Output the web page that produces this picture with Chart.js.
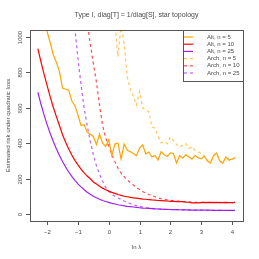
<!DOCTYPE html>
<html>
<head>
<meta charset="utf-8">
<script src="https://cdn.jsdelivr.net/npm/chart.js@4/dist/chart.umd.min.js"></script>
<style>
	html, body { margin: 0; padding: 0; background: #fff; }
	canvas { display: block; }
</style>
</head>
<body>
<canvas id="risk-chart" width="259" height="259"></canvas>
<script>
//ln lambda grid
var lnLambda = [-2.3, -2.2, -2.1, -2.0, -1.9, -1.8, -1.7, -1.6, -1.5, -1.4, -1.3, -1.2, -1.1, -1.0, -0.9, -0.8, -0.7, -0.6, -0.5, -0.4, -0.3, -0.2, -0.1,
	0.0, 0.1, 0.2, 0.3, 0.4, 0.5, 0.6, 0.7, 0.8, 0.9,
	1.0, 1.1, 1.2, 1.3, 1.4, 1.5, 1.6, 1.7, 1.8, 1.9,
	2.0, 2.1, 2.2, 2.3, 2.4, 2.5, 2.6, 2.7, 2.8, 2.9,
	3.0, 3.1, 3.2, 3.3, 3.4, 3.5, 3.6, 3.7, 3.8, 3.9,
	4.0, 4.1];

//alternating algorithm
var altN5 = [1300, 1190, 1100, 1030, 968, 900, 858, 805, 712, 705, 700, 640, 612, 560, 500, 505, 462, 450, 438, 392, 452, 400, 382,
	420, 330, 395, 400, 310, 395, 360, 352, 342, 330,
	372, 390, 340, 350, 322, 330, 305, 352, 335, 325,
	345, 340, 288, 330, 315, 335, 322, 310, 330, 318,
	312, 326, 300, 288, 330, 345, 300, 286, 322, 305,
	310, 318];
var altN10 = [935, 860, 790, 725, 662, 603, 550, 500, 448, 405, 367, 333, 303, 277, 253, 232, 214, 199, 181, 169, 157, 146, 137,
	129, 122, 116, 110, 105, 100, 97, 94, 91, 89,
	87, 84, 83, 81, 79, 78, 76, 75, 74, 73,
	71, 71, 70, 69, 69, 67, 66, 63, 62, 63,
	64, 65, 64, 65, 64, 65, 64, 64, 65, 64,
	64, 65];
var altN25 = [688, 620, 560, 505, 455, 410, 368, 330, 296, 265, 237, 212, 190, 170, 153, 137, 123, 111, 100, 91, 83, 76, 70,
	65, 60, 56, 52, 49, 46, 43, 41, 39, 37,
	35, 33, 32, 31, 30, 29, 28, 27, 26, 25.5,
	25, 24.5, 24, 23.5, 23, 23, 22.5, 22, 22, 21.5,
	21.5, 21, 21, 21, 20.5, 20.5, 20.5, 20, 20, 20,
	20, 20];

//arch algorithm
var archN5 = [null, null, null, null, null, null, null, null, null, null, null, null, null, null, null, null, null, null, null, null, null, null, null,
	1600, 1300, 1080, 890, 1070, 960, 775, 705, 665, 615,
	692, 600, 590, 578, 492, 485, 440, 402, 410, 398,
	436, 415, 392, 378, 388, 398, 370, 380, 360, 352,
	342, 328, 302, 290, 328, 342, 302, 288, 320, 306,
	311, 318];
var archN10 = [null, null, null, null, null, null, null, null, null, null, null, null, null, 1500, 1350, 1200, 1080, 960, 850, 745, 615, 500, 430,
	385, 335, 295, 258, 230, 210, 192, 178, 163, 150,
	138, 127, 118, 110, 103, 97, 91, 86, 82, 79,
	77, 75, 73, 72, 70, 69, 68, 66, 65, 66,
	65, 66, 65, 66, 65, 64, 65, 64, 64, 65,
	64, 64];
var archN25 = [null, null, null, null, null, null, null, null, 1900, 1650, 1430, 1230, 1048, 880, 730, 600, 500, 410, 335, 272, 225, 185, 150,
	128, 112, 100, 90, 82, 73, 65, 58, 52, 47,
	43, 39, 36, 33, 31, 29, 28, 27, 26, 25,
	24.5, 24, 23.5, 23, 22.5, 22.5, 22, 21.5, 21.5, 21,
	21, 20.5, 20.5, 20.5, 20, 20, 20, 19.5, 19.5, 19.5,
	19.5, 19.5];

var xTicks = [-2, -1, 0, 1, 2, 3, 4];
var yTicks = [0, 200, 400, 600, 800, 1000];

var seriesLabels = ['Alt, n = 5', 'Alt, n = 10', 'Alt, n = 25', 'Arch, n = 5', 'Arch, n = 10', 'Arch, n = 25'];
var seriesValues = [altN5, altN10, altN25, archN5, archN10, archN25];
var seriesColors = ['#ffa500', '#ff0000', '#a020f0', 'rgba(255,165,0,0.65)', 'rgba(255,0,0,0.7)', 'rgba(160,32,240,0.7)'];
var seriesDashed = [false, false, false, true, true, true];

var FONT = '"Liberation Sans", Arial, sans-serif';
var INK = '#4a4a4a';

function points(values) {
	var pts = [];
	for (var n = 0; n < lnLambda.length; n++) {
		pts.push({ x: lnLambda[n], y: values[n] });
	}
	return pts;
}

var datasets = [];
for (var s = 0; s < seriesValues.length; s++) {
	datasets.push({
		label: seriesLabels[s],
		data: points(seriesValues[s]),
		borderColor: seriesColors[s],
		borderWidth: 1.2,
		borderDash: seriesDashed[s] ? [3, 3] : [],
		pointRadius: 0,
		tension: 0,
		fill: false,
		spanGaps: false
	});
}

//draws R-like frame, axes, titles and legend
var rFrame = {
	id: 'rFrame',
	afterDraw: function(chart) {
		var ctx = chart.ctx,
			area = chart.chartArea,
			xs = chart.scales.x,
			ys = chart.scales.y;

		ctx.save();
		ctx.strokeStyle = '#555';
		ctx.lineWidth = 1;
		ctx.strokeRect(Math.round(area.left) + 0.5, Math.round(area.top) + 0.5,
			Math.round(area.right - area.left), Math.round(area.bottom - area.top));

		ctx.fillStyle = INK;
		ctx.font = '6px ' + FONT;

		//x axis
		ctx.textAlign = 'center';
		ctx.textBaseline = 'middle';
		for (var i = 0; i < xTicks.length; i++) {
			var px = Math.round(xs.getPixelForValue(xTicks[i])) + 0.5;
			ctx.beginPath();
			ctx.moveTo(px, area.bottom);
			ctx.lineTo(px, area.bottom + 4);
			ctx.stroke();
			ctx.fillText(xTicks[i] < 0 ? '\u2212' + Math.abs(xTicks[i]) : String(xTicks[i]), px, 232);
		}

		//y axis
		for (var j = 0; j < yTicks.length; j++) {
			var py = Math.round(ys.getPixelForValue(yTicks[j])) + 0.5;
			ctx.beginPath();
			ctx.moveTo(area.left, py);
			ctx.lineTo(area.left - 4, py);
			ctx.stroke();
			ctx.save();
			ctx.translate(20, py);
			ctx.rotate(-Math.PI / 2);
			ctx.fillText(String(yTicks[j]), 0, 0);
			ctx.restore();
		}

		//titles
		var cx = (area.left + area.right) / 2,
			cy = (area.top + area.bottom) / 2;
		ctx.font = '7px ' + FONT;
		ctx.fillText('Type I, diag[T] = 1/diag[S], star topology', cx, 15);
		ctx.font = '6px ' + FONT;
		ctx.fillText('ln \u03bb', cx, 247);
		ctx.save();
		ctx.translate(8, cy);
		ctx.rotate(-Math.PI / 2);
		ctx.fillText('Estimated risk under quadratic loss', 0, 0);
		ctx.restore();

		//legend
		var lx = 183, ly = Math.round(area.top), lw = Math.round(area.right) - lx, lh = 51;
		ctx.fillStyle = '#fff';
		ctx.fillRect(lx, ly, lw, lh);
		ctx.strokeStyle = '#555';
		ctx.strokeRect(lx + 0.5, ly + 0.5, lw, lh);
		ctx.textAlign = 'left';
		for (var k = 0; k < seriesLabels.length; k++) {
			var rowY = ly + 7 + k * 7.2;
			ctx.strokeStyle = seriesColors[k];
			ctx.lineWidth = 1.2;
			ctx.setLineDash(seriesDashed[k] ? [3, 3] : []);
			ctx.beginPath();
			ctx.moveTo(184, rowY);
			ctx.lineTo(193, rowY);
			ctx.stroke();
			ctx.setLineDash([]);
			ctx.fillStyle = INK;
			ctx.fillText(seriesLabels[k], 207, rowY);
		}
		ctx.restore();
	}
};

var riskChart = new Chart(document.getElementById('risk-chart').getContext('2d'), {
	type: 'line',
	data: { datasets: datasets },
	options: {
		responsive: false,
		animation: false,
		devicePixelRatio: 1,
		layout: { padding: { left: 30, right: 16, top: 30, bottom: 38 } },
		scales: {
			x: { type: 'linear', min: -2.556, max: 4.356, display: false },
			y: { type: 'linear', min: -40, max: 1040, display: false }
		},
		plugins: {
			legend: { display: false },
			tooltip: { enabled: false },
			title: { display: false }
		}
	},
	plugins: [rFrame]
});
</script>
</body>
</html>
